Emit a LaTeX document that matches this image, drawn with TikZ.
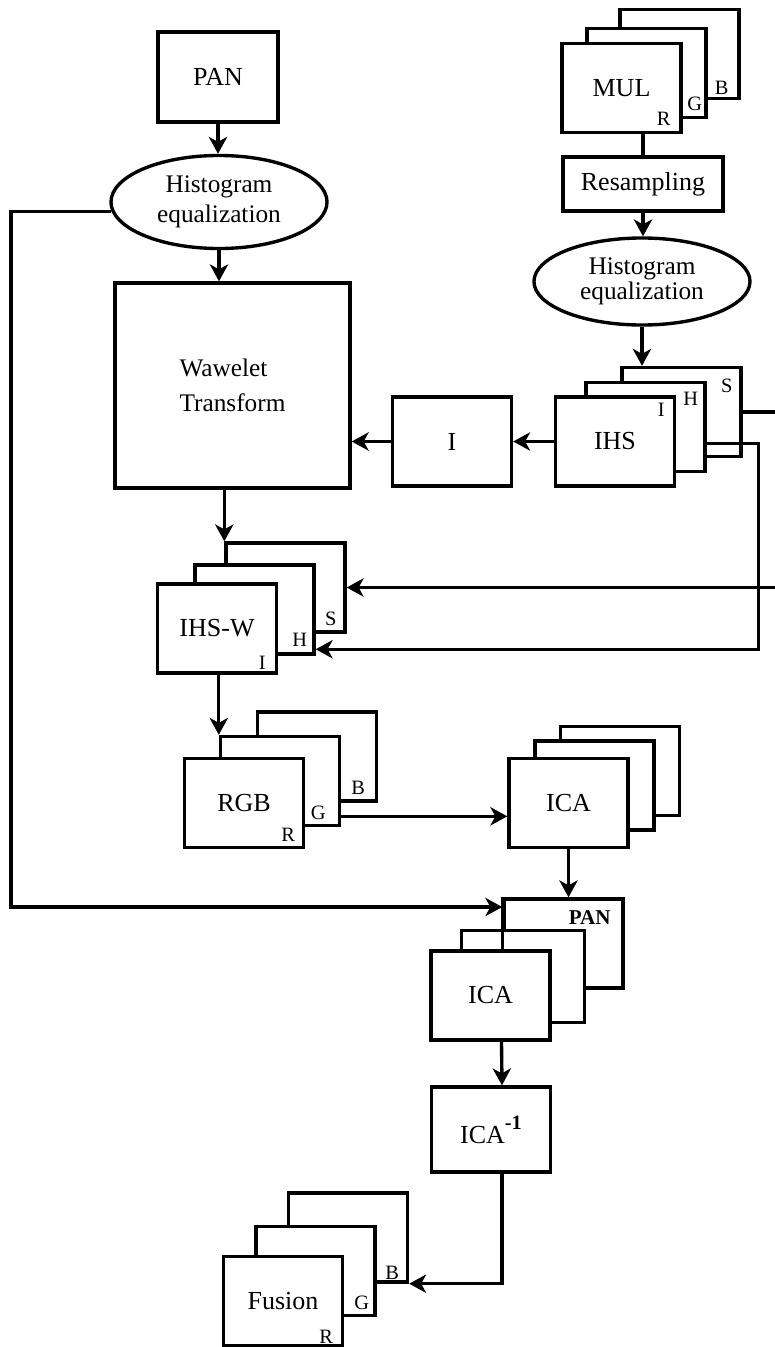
\documentclass[tikz,border=0pt]{standalone}
\usepackage{fontspec}
\setmainfont{Liberation Serif}
\usepackage{tikz}
\usetikzlibrary{shapes.geometric,arrows.meta,calc}
\tikzset{
  box/.style={draw, line width=2.4pt, fill=white, minimum width=2.975cm, minimum height=2.225cm, inner sep=0pt, font=\fontsize{18.5}{21}\selectfont},
  oval/.style={ellipse, draw, line width=2.4pt, fill=white, inner sep=0pt, align=center, minimum width=5.4cm},
  tag/.style={inner sep=0pt, font=\fontsize{14.5}{14.5}\selectfont},
  wire/.style={line width=2.4pt},
  flow/.style={wire, -{Stealth[length=12pt,width=13pt,inset=3.5pt]}},
}

\begin{document}
\begin{tikzpicture}[x=0.025cm, y=-0.025cm]
  \useasboundingbox (0,0) rectangle (775,1347);
  \coordinate (edge) at (775,0);
  \coordinate (lft) at (11,907);

  \node[box, minimum width=3cm, minimum height=2.25cm] (pan) at (218,77) {PAN};
  \node[oval, minimum height=2.325cm, font=\fontsize{18}{21}\selectfont] (hist1) at (219,202) {Histogram\\equalization};
  \node[box, minimum width=5.875cm, minimum height=5.125cm, align=left, font=\fontsize{18}{25}\selectfont] (wave) at (232.5,385.5) {Wawelet\\Transform};
  \node[box] (ibox) at (452,441.5) {I};

  \node[box] (mulB) at (679.5,54) {};
  \node[box] (mulG) at (646.5,73) {};
  \node[box] (mulR) at (621.5,88) {MUL};
  \node[tag] at ($(mulR.south east)+(-19,-15)$) {R};
  \node[tag] at ($(mulG.south east)+(-13,-15)$) {G};
  \node[tag] at ($(mulB.south east)+(-19,-12)$) {B};
  \node[box, minimum width=4cm, minimum height=1.35cm] (resamp) at (643,184) {Resampling};
  \node[oval, minimum height=2.175cm, font=\fontsize{18}{18}\selectfont] (hist2) at (642,281.5) {Histogram\\equalization};

  \node[box] (ihsS) at (681.5,412) {};
  \node[box] (ihsH) at (645.5,427) {};
  \node[box] (ihsI) at (615,441.5) {IHS};
  \node[tag] at ($(ihsI.north east)+(-15,15)$) {I};
  \node[tag] at ($(ihsH.north east)+(-16,18)$) {H};
  \node[tag] at ($(ihsS.north east)+(-16,20)$) {S};

  \node[box] (ihswS) at (285.5,587.5) {};
  \node[box] (ihswH) at (254.5,609.5) {};
  \node[box] (ihswI) at (217,628.5) {IHS-W};
  \node[tag] at ($(ihswI.south east)+(-16,-12)$) {I};
  \node[tag] at ($(ihswH.south east)+(-16,-16)$) {H};
  \node[tag] at ($(ihswS.south east)+(-16,-15)$) {S};

  \node[box] (rgbB) at (317,756.5) {};
  \node[box] (rgbG) at (280,781) {};
  \node[box] (rgbR) at (244,803) {RGB};
  \node[tag] at ($(rgbR.south east)+(-17,-14)$) {R};
  \node[tag] at ($(rgbG.south east)+(-23,-14)$) {G};
  \node[tag] at ($(rgbB.south east)+(-20,-15)$) {B};

  \node[box] (ica1b) at (620,771) {};
  \node[box] (ica1m) at (594.5,785.5) {};
  \node[box] (ica1f) at (568.5,803) {ICA};

  \node[box] (ica2p) at (563.5,943.5) {};
  \node[box, draw=none, fill=white] (ica2m) at (523,976.5) {};
  \draw[wire] (ica2m.north west) rectangle (ica2m.south east);
  \draw[wire] (ica2p.north west) -- (ica2p.north west |- ica2m.north);
  \node[box] (ica2f) at (490.5,995.5) {ICA};
  \draw[wire] (ica2p.north west |- ica2m.north) -- (ica2p.north west |- ica2f.north);
  \node[tag, font=\fontsize{15}{15}\selectfont\bfseries] at ($(ica2p.north east)+(-35,20)$) {PAN};

  \node[box, minimum height=2.125cm] (icainv) at (491,1129.5) {ICA\raisebox{10pt}{\fontsize{14.5}{14.5}\selectfont\bfseries -1}};

  \node[box] (fusB) at (348,1237.5) {};
  \node[box] (fusG) at (315.5,1271) {};
  \node[box] (fusR) at (283,1301) {Fusion};
  \node[tag] at ($(fusR.south east)+(-18,-10)$) {R};
  \node[tag] at ($(fusG.south east)+(-15,-14)$) {G};
  \node[tag] at ($(fusB.south east)+(-17,-11)$) {B};

  \draw[flow] (pan.south) -- (pan.south |- hist1.north);
  \draw[flow] (hist1.south) -- (hist1.south |- wave.north);
  \draw[flow] (hist1.185) -| (lft) -- (lft -| ica2p.west);
  \draw[wire] (mulR.south -| resamp.north) -- (resamp.north);
  \draw[flow] (resamp.south) -- (resamp.south |- hist2.north);
  \draw[flow] (hist2.south) -- (hist2.south |- ihsS.north);
  \draw[wire] (ihsS.east) -- (ihsS.east -| edge);
  \draw[flow] (ihsH.-15) -- ++(52,0) |- (ihswH.-33);
  \draw[flow] (ihsI.west) -- (ibox.east);
  \draw[flow] (ibox.west) -- (ibox.west -| wave.east);
  \draw[flow] (wave.south -| ihswS.north west) -- (ihswS.north west);
  \draw[flow] (ihswS.east -| edge) -- (ihswS.east);
  \draw[flow] (ihswI.south -| rgbG.north west) -- (rgbG.north west);
  \draw[flow] (rgbG.-30) -- (rgbG.-30 -| ica1f.west);
  \draw[flow] (ica1f.south) -- (ica1f.south |- ica2p.north);
  \draw[flow] ($(ica2f.south)+(11,0)$) -- ($(icainv.north)+(11,0)$);
  \draw[flow] ($(icainv.south)+(11,0)$) |- (fusB.south east);
\end{tikzpicture}
\end{document}
